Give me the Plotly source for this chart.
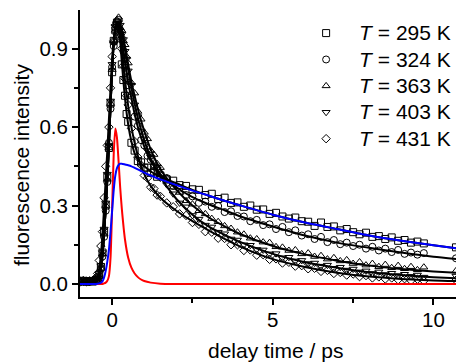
import plotly.graph_objects as go

# ---------------- data ----------------
T_DATA = [-1.0, -0.9, -0.8, -0.7, -0.6, -0.5, -0.45, -0.4, -0.35, -0.3, -0.25, -0.2, -0.15, -0.1, -0.05,
          0.0, 0.05, 0.1, 0.15, 0.2, 0.25, 0.3, 0.35, 0.4, 0.45, 0.5, 0.6, 0.7, 0.8, 0.9, 1.0, 1.1, 1.2,
          1.3, 1.4, 1.5, 1.7, 1.9, 2.1, 2.3, 2.5, 2.7, 2.9, 3.1, 3.3, 3.5, 3.7, 3.9, 4.1, 4.3, 4.5, 4.7,
          4.9, 5.1, 5.3, 5.5, 5.7, 5.9, 6.1, 6.3, 6.5, 6.7, 6.9, 7.1, 7.3, 7.5, 7.7, 7.9, 8.1, 8.3, 8.5,
          8.7, 8.9, 9.1, 9.3, 9.5, 9.7, 10.7]

S295 = [0.01, 0.012, 0.008, 0.011, 0.009, 0.014, 0.02, 0.035, 0.065, 0.12, 0.2, 0.3, 0.41, 0.52, 0.69,
        0.81, 0.93, 0.97, 1.0, 0.98, 0.94, 0.84, 0.78, 0.72, 0.65, 0.62, 0.54, 0.51, 0.47, 0.465, 0.445,
        0.445, 0.425, 0.43, 0.41, 0.415, 0.40, 0.395, 0.378, 0.375, 0.362, 0.36, 0.34, 0.345, 0.325,
        0.33, 0.31, 0.312, 0.295, 0.30, 0.284, 0.285, 0.268, 0.272, 0.258, 0.25, 0.254, 0.24, 0.238,
        0.222, 0.235, 0.218, 0.22, 0.205, 0.21, 0.198, 0.19, 0.196, 0.18, 0.183, 0.172, 0.178, 0.165,
        0.168, 0.158, 0.162, 0.155, 0.14]

S324 = [0.006, 0.01, 0.012, 0.008, 0.011, 0.012, 0.016, 0.03, 0.058, 0.105, 0.18, 0.28, 0.39, 0.54, 0.67,
        0.83, 0.91, 0.98, 0.99, 1.01, 0.96, 0.94, 0.89, 0.84, 0.815, 0.76, 0.72, 0.64, 0.605, 0.55, 0.53,
        0.49, 0.475, 0.45, 0.44, 0.415, 0.405, 0.375, 0.368, 0.34, 0.335, 0.31, 0.315, 0.295, 0.298,
        0.275, 0.278, 0.26, 0.258, 0.24, 0.245, 0.225, 0.228, 0.21, 0.218, 0.198, 0.205, 0.185, 0.19,
        0.172, 0.18, 0.16, 0.168, 0.152, 0.158, 0.145, 0.15, 0.135, 0.142, 0.128, 0.135, 0.122, 0.13,
        0.115, 0.12, 0.112, 0.118, 0.098]

S363 = [0.01, 0.008, 0.012, 0.01, 0.013, 0.011, 0.018, 0.028, 0.06, 0.115, 0.19, 0.3, 0.4, 0.52, 0.69,
        0.82, 0.93, 0.97, 1.01, 1.02, 0.98, 0.97, 0.93, 0.915, 0.87, 0.845, 0.77, 0.73, 0.66, 0.63, 0.58,
        0.555, 0.51, 0.495, 0.46, 0.445, 0.405, 0.37, 0.35, 0.318, 0.305, 0.28, 0.268, 0.25, 0.238,
        0.222, 0.212, 0.198, 0.19, 0.175, 0.172, 0.16, 0.158, 0.142, 0.14, 0.128, 0.13, 0.115, 0.118,
        0.105, 0.108, 0.095, 0.1, 0.088, 0.092, 0.078, 0.084, 0.072, 0.078, 0.066, 0.074, 0.062, 0.07,
        0.058, 0.066, 0.054, 0.064, 0.05]

S403 = [0.012, 0.009, 0.01, 0.013, 0.01, 0.015, 0.022, 0.04, 0.07, 0.12, 0.21, 0.31, 0.42, 0.53, 0.7,
        0.84, 0.92, 0.985, 0.995, 1.0, 0.99, 0.955, 0.935, 0.89, 0.86, 0.815, 0.76, 0.685, 0.64, 0.585,
        0.555, 0.51, 0.485, 0.45, 0.44, 0.405, 0.38, 0.345, 0.31, 0.295, 0.262, 0.248, 0.225, 0.218,
        0.198, 0.192, 0.172, 0.168, 0.15, 0.148, 0.132, 0.13, 0.115, 0.116, 0.1, 0.102, 0.088, 0.09,
        0.078, 0.08, 0.068, 0.072, 0.06, 0.064, 0.053, 0.057, 0.046, 0.05, 0.04, 0.046, 0.036, 0.041,
        0.032, 0.037, 0.029, 0.034, 0.026, 0.03]

S431 = [0.011, 0.013, 0.009, 0.012, 0.014, 0.025, 0.04, 0.09, 0.145, 0.2, 0.33, 0.45, 0.53, 0.6, 0.75,
        0.87, 0.93, 0.99, 1.0, 0.98, 0.955, 0.9, 0.835, 0.785, 0.72, 0.685, 0.595, 0.545, 0.485, 0.455,
        0.415, 0.405, 0.37, 0.365, 0.34, 0.335, 0.31, 0.295, 0.268, 0.262, 0.235, 0.228, 0.2, 0.198,
        0.175, 0.174, 0.15, 0.15, 0.128, 0.13, 0.11, 0.112, 0.094, 0.096, 0.08, 0.083, 0.068, 0.07,
        0.058, 0.06, 0.048, 0.052, 0.04, 0.044, 0.034, 0.038, 0.028, 0.032, 0.023, 0.027, 0.019, 0.023,
        0.016, 0.02, 0.013, 0.018, 0.012, 0.014]

T_FIT = [-1.0, -0.6, -0.5, -0.45, -0.4, -0.35, -0.3, -0.25, -0.2, -0.15, -0.1, -0.05, 0.0, 0.05, 0.1,
         0.15, 0.2, 0.25, 0.3, 0.4, 0.5, 0.6, 0.7, 0.8, 0.9, 1.0, 1.2, 1.5, 2.0, 2.5, 3.0, 3.5, 4.0,
         5.0, 6.0, 7.0, 8.0, 9.0, 10.0, 11.0]

F295 = [0.008, 0.009, 0.012, 0.015, 0.03, 0.06, 0.11, 0.19, 0.29, 0.40, 0.53, 0.68, 0.82, 0.92, 0.975,
        0.995, 0.99, 0.93, 0.85, 0.71, 0.61, 0.545, 0.50, 0.475, 0.46, 0.45, 0.43, 0.41, 0.385, 0.36,
        0.338, 0.318, 0.30, 0.265, 0.235, 0.21, 0.185, 0.165, 0.148, 0.132]
F324 = [0.008, 0.009, 0.012, 0.015, 0.03, 0.06, 0.11, 0.19, 0.29, 0.40, 0.53, 0.68, 0.82, 0.92, 0.975,
        1.0, 1.0, 0.97, 0.93, 0.85, 0.77, 0.71, 0.65, 0.60, 0.56, 0.525, 0.47, 0.42, 0.37, 0.332,
        0.305, 0.282, 0.258, 0.22, 0.185, 0.158, 0.138, 0.12, 0.104, 0.092]
F363 = [0.008, 0.009, 0.012, 0.015, 0.03, 0.06, 0.11, 0.19, 0.29, 0.40, 0.53, 0.68, 0.82, 0.92, 0.975,
        1.0, 1.0, 0.99, 0.97, 0.91, 0.84, 0.775, 0.72, 0.67, 0.625, 0.585, 0.515, 0.44, 0.36, 0.30,
        0.255, 0.22, 0.19, 0.145, 0.113, 0.089, 0.07, 0.057, 0.048, 0.041]
F403 = [0.008, 0.009, 0.012, 0.015, 0.03, 0.06, 0.11, 0.19, 0.29, 0.40, 0.53, 0.68, 0.82, 0.92, 0.975,
        1.0, 1.0, 0.985, 0.96, 0.895, 0.82, 0.75, 0.69, 0.635, 0.59, 0.55, 0.48, 0.41, 0.325, 0.265,
        0.22, 0.188, 0.16, 0.115, 0.083, 0.062, 0.045, 0.034, 0.026, 0.02]
F431 = [0.008, 0.01, 0.018, 0.03, 0.06, 0.11, 0.19, 0.29, 0.40, 0.51, 0.63, 0.75, 0.86, 0.935, 0.98,
        1.0, 0.99, 0.95, 0.90, 0.78, 0.68, 0.60, 0.54, 0.49, 0.45, 0.42, 0.375, 0.33, 0.28, 0.24,
        0.205, 0.172, 0.142, 0.095, 0.065, 0.043, 0.028, 0.019, 0.013, 0.01]

RED = [0.0, 0.0, 0.0, 0.0, 0.0, 0.0, 0.0, 0.002, 0.005, 0.012, 0.03, 0.1, 0.29, 0.5, 0.595,
       0.56, 0.47, 0.37, 0.29, 0.17, 0.10, 0.062, 0.04, 0.026, 0.017, 0.011, 0.005, 0.001, 0.0, 0.0,
       0.0, 0.0, 0.0, 0.0, 0.0, 0.0, 0.0, 0.0, 0.0, 0.0]
BLUE = [0.0, 0.0, 0.0, 0.001, 0.002, 0.005, 0.01, 0.025, 0.05, 0.085, 0.13, 0.2, 0.28, 0.36, 0.415,
        0.443, 0.455, 0.46, 0.46, 0.457, 0.454, 0.45, 0.444, 0.438, 0.432, 0.426, 0.415, 0.40, 0.378,
        0.357, 0.338, 0.318, 0.30, 0.265, 0.235, 0.21, 0.185, 0.165, 0.148, 0.132]

TEMPS = ["295", "324", "363", "403", "431"]
SERIES = [S295, S324, S363, S403, S431]
FITS = [F295, F324, F363, F403, F431]
SYMBOLS = ["square-open", "circle-open", "triangle-up-open", "triangle-down-open", "diamond-open"]
SIZES = [7, 7, 7, 7, 6.5]

FONT = "Liberation Sans, Arial, Helvetica, sans-serif"

fig = go.Figure()
for vals, temp, sym, sz in zip(SERIES, TEMPS, SYMBOLS, SIZES):
    fig.add_trace(go.Scatter(
        x=T_DATA, y=vals, mode="markers",
        name='<span style="font-size:21px"><i>T</i> = %s K</span>' % temp,
        marker=dict(symbol=sym, size=sz, color="black", line=dict(width=1, color="black")),
    ))
for f in FITS:
    fig.add_trace(go.Scatter(x=T_FIT, y=f, mode="lines", showlegend=False,
                             line=dict(color="black", width=2, shape="spline", smoothing=0.6)))
fig.add_trace(go.Scatter(x=T_FIT, y=RED, mode="lines", showlegend=False,
                         line=dict(color="#ff0000", width=2, shape="spline", smoothing=0.6)))
fig.add_trace(go.Scatter(x=T_FIT, y=BLUE, mode="lines", showlegend=False,
                         line=dict(color="#0000ff", width=2, shape="spline", smoothing=0.6)))

XR = [-1.0, 10.95]
YR = [-0.05, 1.048]

# the page body keeps its default 8px margin, so the figure is 8px smaller on each side
fig.update_layout(
    width=456, height=354, autosize=False,
    margin=dict(l=72, r=0, t=2, b=65, autoexpand=False),
    paper_bgcolor="white", plot_bgcolor="white",
    font=dict(family=FONT, size=20.5, color="black"),
    showlegend=True,
    legend=dict(x=0.555, y=0.983, xanchor="left", yanchor="top",
                bgcolor="rgba(0,0,0,0)", font=dict(size=18, family=FONT, color="black"),
                itemwidth=56, tracegroupgap=0),
    xaxis=dict(range=XR, autorange=False, showgrid=False, zeroline=False, showline=True,
               linecolor="black", automargin=False, ticklabelstandoff=-3,
               linewidth=2, ticks="outside", ticklen=6, tickwidth=1.5, tickcolor="black",
               tick0=0, dtick=5,
               minor=dict(dtick=2.5, ticks="outside", ticklen=4, tickwidth=1.5, tickcolor="black")),
    xaxis2=dict(range=XR, autorange=False, overlaying="x", side="top", anchor="y", showgrid=False,
                zeroline=False, automargin=False,
                showline=True, linecolor="black", linewidth=2, ticks="inside", ticklen=5,
                tickwidth=1.5, tickcolor="black", tick0=0, dtick=5, showticklabels=False,
                minor=dict(dtick=2.5, ticks="inside", ticklen=3, tickwidth=1.5, tickcolor="black")),
    yaxis=dict(range=YR, autorange=False, showgrid=False, zeroline=False, showline=True,
               linecolor="black", automargin=False,
               linewidth=2, ticks="outside", ticklen=6, tickwidth=1.5, tickcolor="black",
               tick0=0, dtick=0.3, tickformat=".1f",
               minor=dict(dtick=0.15, ticks="outside", ticklen=4, tickwidth=1.5, tickcolor="black")),
    annotations=[
        dict(text="delay time / ps", xref="paper", yref="paper", x=0.51, y=-0.185,
             xanchor="center", yanchor="middle", showarrow=False, font=dict(size=21)),
        dict(text="fluorescence intensity", xref="paper", yref="paper", x=-0.151, y=0.46,
             xanchor="center", yanchor="middle", textangle=-90, showarrow=False,
             font=dict(size=21)),
    ],
)

fig.write_html("out.html", config={"displayModeBar": False})
